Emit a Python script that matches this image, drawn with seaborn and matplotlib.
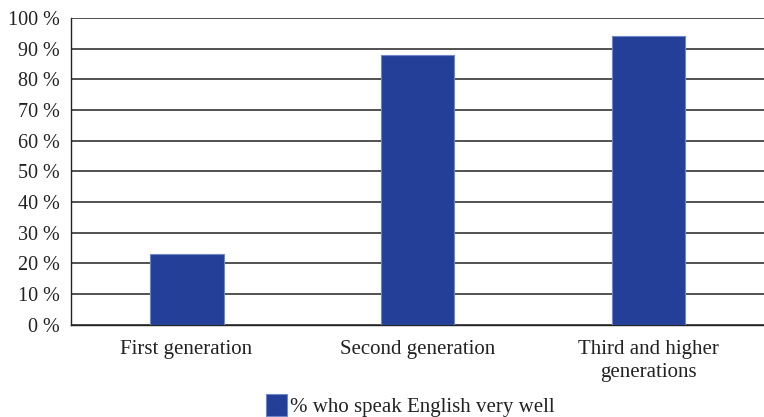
import matplotlib
matplotlib.use("Agg")
import matplotlib.pyplot as plt
import seaborn as sns
import pandas as pd

# data
generations = ["First generation", "Second generation", "Third and higher\ngenerations"]
pct_english = [23, 88, 94]
series_name = "% who speak English very well"
y_ticks = [0, 10, 20, 30, 40, 50, 60, 70, 80, 90, 100]

df = pd.DataFrame({
    "generation": generations,
    "pct": pct_english,
    "series": series_name,
})

sns.set_style("white")
plt.rcParams["font.family"] = ["Liberation Serif", "DejaVu Serif"]

fig = plt.figure(figsize=(7.64, 4.17), dpi=100)
ax = fig.add_axes([0.093, 0.221, 0.907, 0.736])

sns.barplot(
    data=df, x="generation", y="pct", hue="series",
    palette=["#233f97"], saturation=1, width=0.32,
    edgecolor="#6f86c8", linewidth=0.8, ax=ax, zorder=3,
)

# y axis
ax.set_ylim(0, 100)
ax.set_yticks(y_ticks)
ax.set_yticklabels([f"{t} %" for t in y_ticks], fontsize=14.5, color="#222222")
ax.yaxis.grid(True, color="#222222", linewidth=1.1)
ax.set_axisbelow(True)
ax.tick_params(axis="y", length=5, width=1, color="#222222", pad=3)

# x axis: ticks between categories, labels centred under bars
ax.set_xlim(-0.5, 2.5)
ax.set_xticks([-0.5, 0.5, 1.5, 2.5])
ax.set_xticklabels([])
ax.set_xticks([0, 1, 2], minor=True)
ax.set_xticklabels(generations, minor=True, fontsize=15, color="#222222",
                   linespacing=1.25)
ax.tick_params(axis="x", which="major", length=5, width=1, color="#222222", direction="out")
ax.tick_params(axis="x", which="minor", length=0, pad=11)
ax.set_xlabel("")
ax.set_ylabel("")

for side in ["top", "right"]:
    ax.spines[side].set_visible(False)
for side in ["left", "bottom"]:
    ax.spines[side].set_color("#222222")
    ax.spines[side].set_linewidth(1)

# legend below the plot
leg = ax.legend(
    loc="lower center", bbox_to_anchor=(0.49, -0.36), frameon=False,
    fontsize=15, handlelength=1.0, handleheight=1.25, handletextpad=0.15,
)
for t in leg.get_texts():
    t.set_color("#222222")

fig.savefig("out.png", dpi=100)
